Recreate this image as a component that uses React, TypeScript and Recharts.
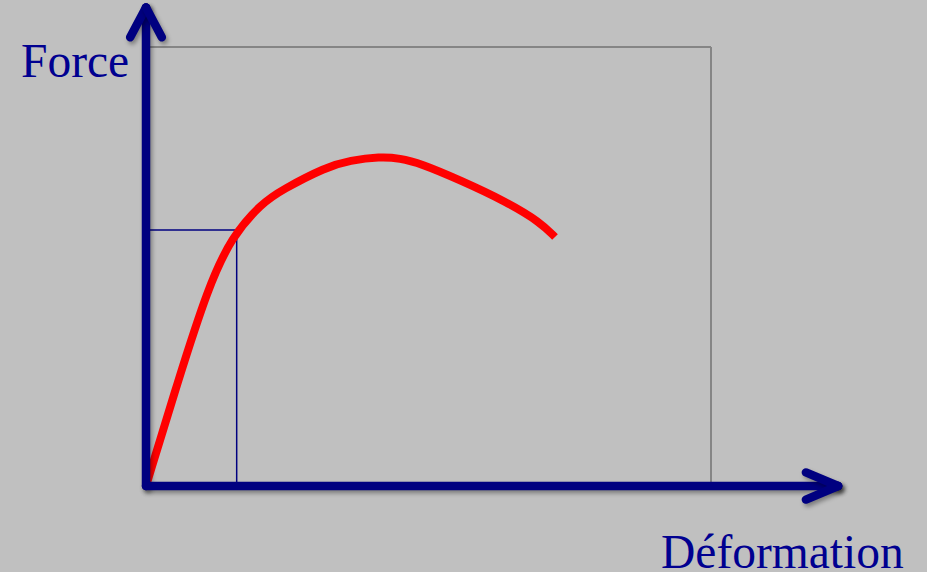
import React from 'react';
import { LineChart, Line, XAxis, YAxis, ReferenceLine } from 'recharts';

// Deformation (x) and force (y) in arbitrary units (0-100 = frame)
const deformation = [0, 5.72, 11.03, 15.17, 20.48, 24.02, 31.86, 36.11, 41.42, 44.96, 48.5, 55.58, 63.89, 69.73, 72.39];
const force = [0, 24.15, 45.4, 56.79, 64.4, 67.43, 72.67, 74.15, 75.01, 74.65, 73.51, 69.7, 64.69, 60.14, 56.72];

const yieldPoint = { x: 16.05, y: 58.3 };
const frame = { xMax: 100, yMax: 100 };
const axisEnds = { x: 122.5, y: 109 };

const data = deformation.map((d, i) => ({ d, f: force[i] }));

const NAVY = '#000080';

export default function App() {
  return (
    <div style={{ position: 'absolute', left: 0, top: 0, width: 927, height: 572, background: '#c0c0c0', overflow: 'hidden' }}>
      <style>{`.shadowed line { filter: drop-shadow(2px 3px 2px rgba(0,0,0,0.35)); }`}</style>
      <LineChart width={927} height={572} data={data} margin={{ top: 47, left: 146, right: 216, bottom: 86 }}>
        <XAxis dataKey="d" type="number" domain={[0, 100]} hide allowDataOverflow />
        <YAxis dataKey="f" type="number" domain={[0, 100]} hide allowDataOverflow />
        {/* frame */}
        <ReferenceLine segment={[{ x: 0, y: frame.yMax }, { x: frame.xMax, y: frame.yMax }]} stroke="#858585" strokeWidth={2} ifOverflow="visible" />
        <ReferenceLine segment={[{ x: frame.xMax, y: 0 }, { x: frame.xMax, y: frame.yMax }]} stroke="#858585" strokeWidth={2} ifOverflow="visible" />
        {/* yield lines */}
        <ReferenceLine segment={[{ x: 0, y: yieldPoint.y }, { x: yieldPoint.x, y: yieldPoint.y }]} stroke={NAVY} strokeWidth={1.5} ifOverflow="visible" />
        <ReferenceLine segment={[{ x: yieldPoint.x, y: 0 }, { x: yieldPoint.x, y: yieldPoint.y }]} stroke={NAVY} strokeWidth={1.5} ifOverflow="visible" />
        <Line dataKey="f" type="basis" stroke="#ff0000" strokeWidth={8} dot={false} isAnimationActive={false} />
        {/* axes with arrows */}
        <ReferenceLine className="shadowed" segment={[{ x: 0, y: 0 }, { x: 0, y: axisEnds.y }]} stroke={NAVY} strokeWidth={8.5} strokeLinecap="round" ifOverflow="visible" />
        <ReferenceLine className="shadowed" segment={[{ x: -2.8, y: 102.2 }, { x: 0, y: axisEnds.y }]} stroke={NAVY} strokeWidth={8.5} strokeLinecap="round" ifOverflow="visible" />
        <ReferenceLine className="shadowed" segment={[{ x: 2.8, y: 102.2 }, { x: 0, y: axisEnds.y }]} stroke={NAVY} strokeWidth={8.5} strokeLinecap="round" ifOverflow="visible" />
        <ReferenceLine className="shadowed" segment={[{ x: 0, y: 0 }, { x: axisEnds.x, y: 0 }]} stroke={NAVY} strokeWidth={8.5} strokeLinecap="round" ifOverflow="visible" />
        <ReferenceLine className="shadowed" segment={[{ x: 116.8, y: 3.1 }, { x: axisEnds.x, y: 0 }]} stroke={NAVY} strokeWidth={8.5} strokeLinecap="round" ifOverflow="visible" />
        <ReferenceLine className="shadowed" segment={[{ x: 116.8, y: -3.1 }, { x: axisEnds.x, y: 0 }]} stroke={NAVY} strokeWidth={8.5} strokeLinecap="round" ifOverflow="visible" />
      </LineChart>
      <div style={{ position: 'absolute', left: 21, top: 35, fontFamily: '"Liberation Serif", "Times New Roman", serif', fontSize: 47.5, color: '#000090', lineHeight: '52px' }}>Force</div>
      <div style={{ position: 'absolute', left: 661, top: 526, fontFamily: '"Liberation Serif", "Times New Roman", serif', fontSize: 47.5, color: '#000090', lineHeight: '52px' }}>Déformation</div>
    </div>
  );
}
